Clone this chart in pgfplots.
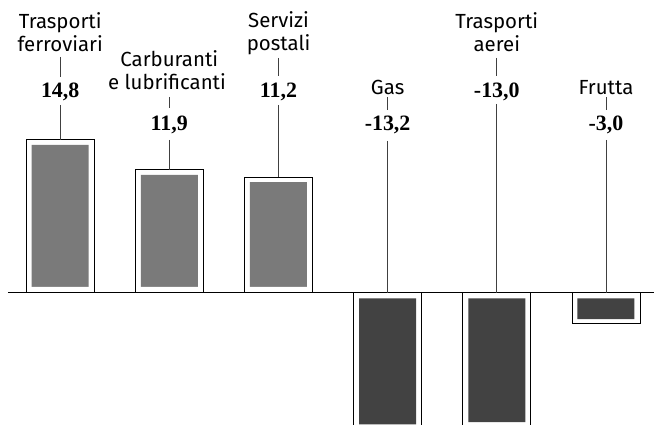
\documentclass[border=0pt]{standalone}
\usepackage{pgfplots}
\pgfplotsset{compat=1.18}
\usepackage{pgfplotstable}
\usepackage{fontspec}
\setmainfont{Liberation Serif}
\newfontfamily\catfont{Fira Sans}

% increases (x = position of the category)
\pgfplotstableread{
x v
0 14.8
1 11.9
2 11.2
}\increases
% decreases
\pgfplotstableread{
x v
3 -13.2
4 -13.0
5 -3.0
}\decreases

\newcommand{\cat}[1]{{\catfont\fontsize{20.5}{24}\selectfont #1}}
\newcommand{\val}[1]{{\bfseries\fontsize{22}{26}\selectfont #1}}

\begin{document}
\begin{tikzpicture}
\path[use as bounding box] (0,0) rectangle (654bp,425bp);
\begin{axis}[at={(0,0)}, anchor=south west,
  width=654bp, height=425bp, scale only axis, hide axis,
  xmin=-0.5512, xmax=5.4401, ymin=-12.82, ymax=28.36]
% outer boxes
\addplot[ybar, bar width=68bp, bar shift=0pt, fill=white, draw=black, line width=0.9bp] table[x=x,y=v]{\increases};
\addplot[ybar, bar width=68bp, bar shift=0pt, fill=white, draw=black, line width=0.9bp] table[x=x,y=v]{\decreases};
% inner textured fill
\addplot[ybar, bar width=57bp, bar shift=0pt, fill=black!52, draw=none] table[x=x,y expr=\thisrow{v}-0.48]{\increases};
\addplot[ybar, bar width=57bp, bar shift=0pt, fill=black!74, draw=none] table[x=x,y expr=\thisrow{v}+0.45]{\decreases};
% white gap next to the baseline
\addplot[ybar, bar width=59bp, bar shift=0pt, fill=white, draw=none] table[x=x,y expr=0.57]{\increases};
\addplot[ybar, bar width=59bp, bar shift=0pt, fill=white, draw=none] table[x=x,y expr=-0.55]{\decreases};
% baseline
\addplot[black, line width=1.3bp] coordinates {(-0.478,0) (5.45,0)};
\end{axis}

\tikzset{lead/.style={black!75, line width=0.7bp}}
% bar 1
\node[anchor=base] at (60.2bp,396bp) {\cat{Trasporti}};
\node[anchor=base] at (60.2bp,373bp) {\cat{ferroviari}};
\draw[lead] (60.2bp,368bp) -- (60.2bp,348bp);
\node[anchor=base] at (60.2bp,327bp) {\val{14,8}};
\draw[lead] (60.2bp,320bp) -- (60.2bp,285bp);
% bar 2
\node[anchor=base] at (169.3bp,358bp) {\cat{Carburanti}};
\node[anchor=base] at (167bp,335bp) {\cat{e lubrificanti}};
\draw[lead] (169.3bp,328bp) -- (169.3bp,317bp);
\node[anchor=base] at (169.3bp,294bp) {\val{11,9}};
\draw[lead] (169.3bp,285bp) -- (169.3bp,255.1bp);
% bar 3
\node[anchor=base] at (278.5bp,397bp) {\cat{Servizi}};
\node[anchor=base] at (278.5bp,374bp) {\cat{postali}};
\draw[lead] (278.5bp,367bp) -- (278.5bp,349bp);
\node[anchor=base] at (278.5bp,327bp) {\val{11,2}};
\draw[lead] (278.5bp,320bp) -- (278.5bp,247.9bp);
% bar 4
\node[anchor=base] at (387.6bp,330bp) {\cat{Gas}};
\draw[lead] (387.6bp,328bp) -- (387.6bp,315bp);
\node[anchor=base] at (387.6bp,294bp) {\val{-13,2}};
\draw[lead] (387.6bp,284bp) -- (387.6bp,132.3bp);
% bar 5
\node[anchor=base] at (496.8bp,396bp) {\cat{Trasporti}};
\node[anchor=base] at (496.8bp,373bp) {\cat{aerei}};
\draw[lead] (496.8bp,367bp) -- (496.8bp,349bp);
\node[anchor=base] at (496.8bp,327bp) {\val{-13,0}};
\draw[lead] (496.8bp,321bp) -- (496.8bp,132.3bp);
% bar 6
\node[anchor=base] at (606bp,330bp) {\cat{Frutta}};
\draw[lead] (606bp,328bp) -- (606bp,315bp);
\node[anchor=base] at (606bp,294bp) {\val{-3,0}};
\draw[lead] (606bp,285bp) -- (606bp,132.3bp);
\end{tikzpicture}
\end{document}
